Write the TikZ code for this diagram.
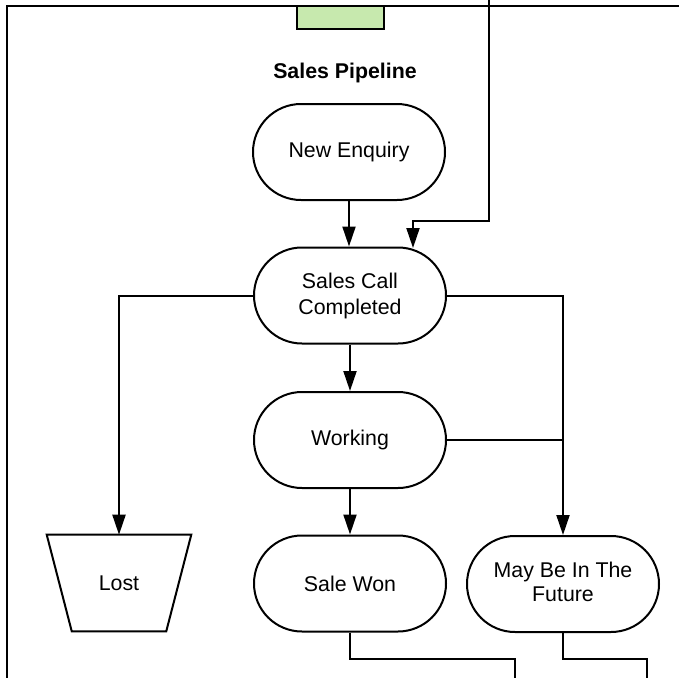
\documentclass[tikz,border=0pt]{standalone}
\usepackage{fontspec}
\setmainfont{Liberation Sans}
\usetikzlibrary{shapes.misc,arrows.meta,calc}
\definecolor{tabgreen}{HTML}{C7E9AE}
\tikzset{
  line/.style={line width=1.5pt,draw=black},
  arr/.style={line width=1.5pt,draw=black,-{Triangle[length=15pt,width=9.75pt]}},
  labelfont/.style={font=\fontsize{16pt}{19.5pt}\selectfont},
  stadium/.style={rounded rectangle,rounded rectangle arc length=180,draw,line width=1.5pt,
    minimum width=144pt,minimum height=72pt,inner sep=0pt,align=center,labelfont},
  lostbox/.style={rectangle,minimum width=108pt,minimum height=72pt,inner sep=0pt,labelfont},
  titletext/.style={font=\fontsize{16pt}{19.5pt}\selectfont\bfseries},
  tabbox/.style={draw,line width=1.5pt,fill=tabgreen,minimum width=65.25pt,minimum height=17.25pt,inner sep=0pt}
}
\begin{document}
\begin{tikzpicture}[x=0.75pt,y=-0.75pt]
\useasboundingbox (0,0) rectangle (679,678);
\clip (0,0) rectangle (679,678);
\fill[white] (0,0) rectangle (679,678);
% frame
\coordinate (fbl) at (7,700);
\coordinate (ftl) at (7,6);
\coordinate (ftr) at (700,6);
\draw[line] (fbl) -- (ftl) -- (ftr);
% tab
\node[tabbox] (tab) at (340.5,17.5) {};
% title
\node[titletext] (title) at (345,73) {Sales Pipeline};
% stadiums
\node[stadium] (ne) at (349,152) {New Enquiry};
\node[stadium] (sc) at (350,295.5) {Sales Call\\Completed};
\node[stadium] (wk) at (350,440) {Working};
\node[stadium] (sw) at (350,583.5) {Sale Won};
\node[stadium] (fu) at (563,584) {\raisebox{2.2pt}{\begin{tabular}{@{}c@{}}May Be In The\\[-1.2pt]Future\end{tabular}}};
\node[lostbox] (lost) at (119,583) {Lost};
\draw[line,line join=miter] (lost.north west) -- (lost.north east)
  -- ($(lost.south east)+(-25,0)$) -- ($(lost.south west)+(25,0)$) -- cycle;
% connectors
\draw[arr] (ne.south) -- (ne.south |- sc.north);
\draw[arr] (sc.south) -- (wk.north);
\draw[arr] (wk.south) -- (sw.north);
\draw[arr] (sc.west) -| (lost.north);
\draw[arr] (sc.east) -| (fu.north);
\coordinate (wj) at (563,440);
\draw[line] (wk.east) -- (wj);
% incoming from top
\coordinate (ttop) at (489,-5);
\coordinate (tbend) at (413,221);
\coordinate (tend) at (413,248);
\draw[arr] (ttop) |- (tbend) -- (tend);
% outgoing at bottom
\coordinate (swb) at (515,659);
\coordinate (swe) at (515,700);
\draw[line] (sw.south) |- (swb) -- (swe);
\coordinate (fub) at (647,659);
\coordinate (fue) at (647,700);
\draw[line] (fu.south) |- (fub) -- (fue);
\end{tikzpicture}
\end{document}
